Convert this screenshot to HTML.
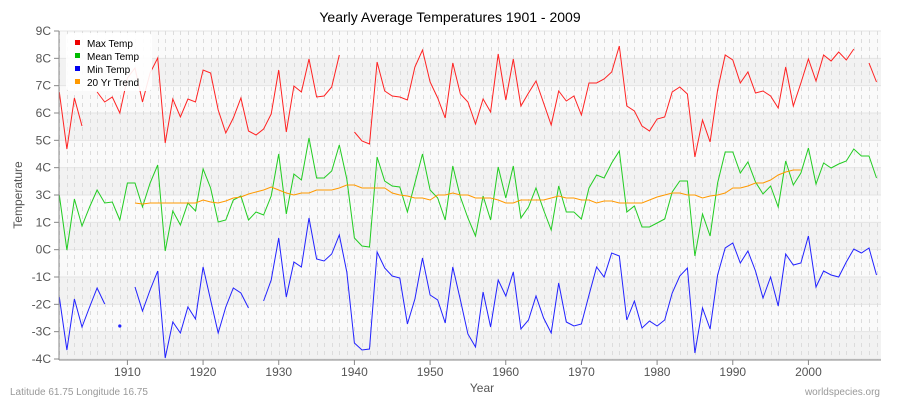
<!DOCTYPE html>
<html><head><meta charset="utf-8"><style>
html,body{margin:0;padding:0;background:#fff;}
svg{display:block;font-family:"Liberation Sans",sans-serif;}
</style></head><body>
<svg id="s" width="900" height="400" viewBox="0 0 900 400" xmlns="http://www.w3.org/2000/svg">
<rect width="900" height="400" fill="#fff"/>
<g id="bands"></g>
<g id="grid"></g>
<g id="series"></g>
<line x1="59" y1="31" x2="59" y2="360" stroke="#888" stroke-width="1"/>
<line x1="59" y1="360" x2="881" y2="360" stroke="#888" stroke-width="1"/>
<g id="labels" font-size="12" fill="#555"></g>
<text x="450" y="22" font-size="14" text-anchor="middle" fill="#000">Yearly Average Temperatures 1901 - 2009</text>
<text x="482" y="392" font-size="12" text-anchor="middle" fill="#555">Year</text>
<text transform="translate(22,195) rotate(-90)" font-size="12" text-anchor="middle" fill="#555">Temperature</text>
<text x="10" y="395" font-size="10" fill="#999">Latitude 61.75 Longitude 16.75</text>
<text x="880" y="395" font-size="10" fill="#999" text-anchor="end">worldspecies.org</text>
<g>
<rect x="66" y="33" width="86" height="58" rx="4" fill="#fff" fill-opacity="0.9"/>
<rect x="75" y="40" width="5" height="5" fill="#e00"/><text x="87" y="47" font-size="10">Max Temp</text>
<rect x="75" y="53" width="5" height="5" fill="#0b0"/><text x="87" y="60" font-size="10">Mean Temp</text>
<rect x="75" y="66" width="5" height="5" fill="#00e"/><text x="87" y="73" font-size="10">Min Temp</text>
<rect x="75" y="79" width="5" height="5" fill="#f90"/><text x="87" y="86" font-size="10">20 Yr Trend</text>
</g>
</svg>
<script>
var NS="http://www.w3.org/2000/svg";
function el(p,t,a){var e=document.createElementNS(NS,t);for(var k in a)e.setAttribute(k,a[k]);document.getElementById(p).appendChild(e);return e;}
function X(yr){return 59.3+(yr-1901)*7.567;}
var labs=["9C","8C","7C","6C","5C","4C","3C","1C","0C","-1C","-2C","-3C","-4C"];
var st=(359-31)/12;
for(var i=0;i<12;i++){var y1=31+i*st;
 el("bands","rect",{x:59,y:y1,width:822,height:st,fill:((i%2===1)?"#f2f2f2":"#fafafa")});}
for(var i=0;i<=12;i++){var y=31+i*st;
 el("grid","line",{x1:59,x2:881,y1:y,y2:y,stroke:"#e4e4e4","stroke-width":1});
 var t=el("labels","text",{x:51,y:y+4,"text-anchor":"end"});t.textContent=labs[i];
 el("labels","line",{x1:54,x2:59,y1:y,y2:y,stroke:"#888"});}
for(var yr=1901;yr<=2009;yr++){var x=Math.round(X(yr))+0.5;
 el("grid","line",{x1:x,x2:x,y1:31,y2:360,stroke:"#dcdcdc","stroke-width":1,"stroke-dasharray":"4,4"});}
for(var yr=1910;yr<=2000;yr+=10){var t=el("labels","text",{x:X(yr),y:376,"text-anchor":"middle"});t.textContent=yr;
 el("labels","line",{x1:X(yr),x2:X(yr),y1:360,y2:365,stroke:"#888"});}
var N=null;
var red=[92,149,98,126,N,92,102,97,113,78,68,102,73,58,143,99,117,99,102,70,73,110,133,118,98,131,135,129,114,70,132,86,92,59,97,96,87,55,N,132,141,144,62,91,96,97,100,67,50,82,98,118,63,94,102,124,99,112,54,100,59,106,93,81,103,125,91,101,96,115,83,83,79,72,46,106,111,126,131,119,117,92,87,94,157,120,142,90,55,60,83,72,93,91,96,108,67,106,83,59,81,55,61,52,60,49,N,63,82];
var green=[195,250,199,226,207,190,203,202,220,183,183,207,183,165,251,211,225,203,211,169,188,222,220,200,196,220,212,215,196,154,214,174,180,138,178,178,171,145,179,238,246,247,157,181,186,187,212,183,154,190,198,220,166,197,218,236,196,220,167,198,166,218,207,188,210,230,186,212,212,219,188,175,178,163,151,212,206,227,227,223,219,192,181,181,256,214,236,183,152,152,173,162,182,194,186,207,161,185,173,148,184,163,168,164,161,149,156,156,178];
var blue=[297,350,299,327,307,288,304,N,326,N,287,311,290,271,358,322,333,307,319,267,300,333,307,288,293,308,N,301,280,238,297,262,267,218,259,261,254,235,272,343,350,349,252,268,276,278,324,299,258,295,300,323,267,300,334,347,292,327,280,296,272,329,320,296,318,333,283,322,326,324,295,267,277,253,256,320,301,328,321,326,320,293,276,268,353,308,329,275,248,243,263,251,271,298,277,306,254,265,263,236,287,271,275,277,262,249,253,248,275];
var tv=[203,204,203,203,203,203,203,203,203,200,202,203,201,198,197,194,192,190,187,190,193,195,193,193,190,190,190,188,185,185,188,188,188,188,193,195,196,198,198,200,195,195,193,195,195,198,198,198,200,203,203,200,200,200,200,198,196,198,198,200,200,203,201,201,203,203,203,203,200,197,195,193,193,195,195,198,196,195,193,188,188,186,183,183,180,175,172,170,170];
function draw(arr,start,col){var pts=[];function flush(){if(pts.length>1)el("series","polyline",{points:pts.join(" "),fill:"none",stroke:col,"stroke-width":1});else if(pts.length==1){var p=pts[0].split(",");el("series","circle",{cx:p[0],cy:p[1],r:1.6,fill:col});}pts=[];}
 for(var i=0;i<arr.length;i++){if(arr[i]===null){flush();continue;}pts.push(X(start+i).toFixed(1)+","+arr[i]);}flush();}
draw(red,1901,"#f22");draw(green,1901,"#2c2");draw(blue,1901,"#22f");draw(tv,1911,"#f90");
</script>
</body></html>
